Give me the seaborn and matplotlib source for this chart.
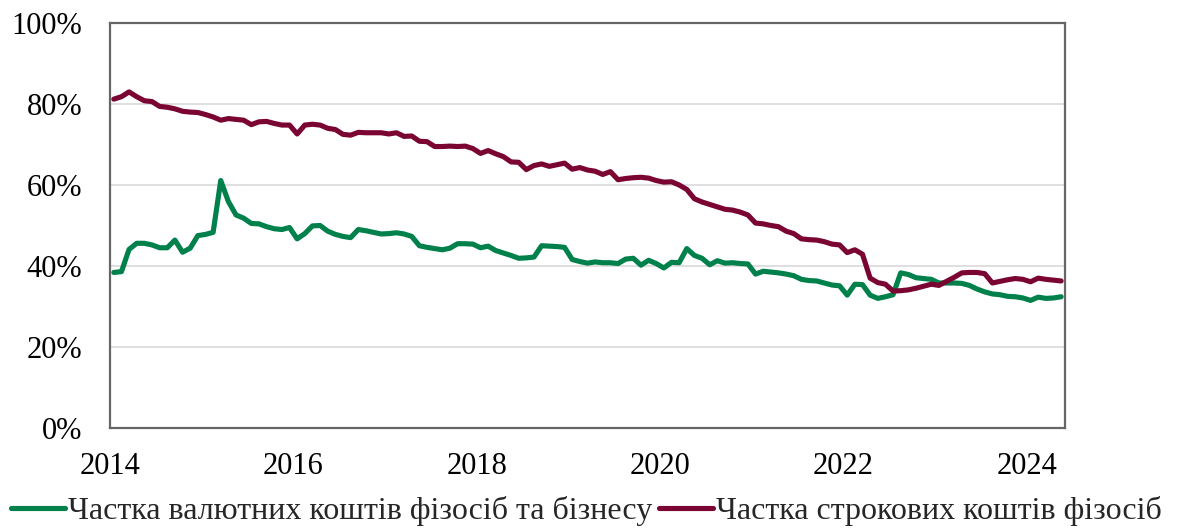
import numpy as np
import pandas as pd
import matplotlib
matplotlib.use("Agg")
import matplotlib.pyplot as plt
from matplotlib.lines import Line2D
import seaborn as sns

# ---- data ----
dates = pd.date_range("2014-01-01", periods=125, freq="MS")

fx_share = [  # Частка валютних коштів фізосіб та бізнесу, %
    38.4, 38.6, 44.1, 45.6, 45.6, 45.2, 44.5, 44.5, 46.4, 43.4, 44.4, 47.5,
    47.8, 48.3, 61.1, 55.9, 52.6, 51.8, 50.5, 50.4, 49.7, 49.2, 49.0, 49.5,
    46.7, 48.0, 49.9, 50.0, 48.6, 47.8, 47.3, 47.0, 49.0, 48.7, 48.3, 47.9,
    48.0, 48.2, 47.9, 47.3, 45.0, 44.6, 44.3, 44.0, 44.4, 45.5, 45.5, 45.4,
    44.5, 44.9, 43.8, 43.2, 42.6, 41.9, 42.0, 42.2, 45.0, 44.9, 44.8, 44.6,
    41.6, 41.1, 40.7, 41.0, 40.8, 40.8, 40.6, 41.7, 41.9, 40.2, 41.4, 40.6,
    39.5, 40.9, 40.8, 44.3, 42.6, 41.9, 40.3, 41.3, 40.7, 40.8, 40.6, 40.5,
    38.0, 38.7, 38.5, 38.3, 38.0, 37.6, 36.7, 36.4, 36.3, 35.8, 35.3, 35.1,
    32.8, 35.5, 35.4, 32.8, 32.0, 32.4, 32.9, 38.3, 37.9, 37.1, 36.9, 36.7,
    35.8, 35.8, 35.8, 35.7, 35.2, 34.3, 33.6, 33.1, 32.9, 32.5, 32.4, 32.1,
    31.5, 32.3, 32.0, 32.1, 32.4,
]

term_share = [  # Частка строкових коштів фізосіб, %
    81.2, 81.8, 83.0, 81.8, 80.8, 80.6, 79.4, 79.2, 78.8, 78.2, 78.0, 77.9,
    77.4, 76.8, 76.0, 76.4, 76.2, 76.0, 74.9, 75.6, 75.7, 75.2, 74.8, 74.8,
    72.6, 74.8, 75.0, 74.8, 74.0, 73.7, 72.5, 72.3, 73.0, 72.9, 72.9, 72.9,
    72.6, 72.9, 72.0, 72.1, 70.8, 70.7, 69.5, 69.5, 69.6, 69.5, 69.6, 69.0,
    67.8, 68.5, 67.7, 67.0, 65.7, 65.6, 63.8, 64.8, 65.2, 64.6, 65.0, 65.4,
    63.9, 64.3, 63.7, 63.4, 62.6, 63.3, 61.3, 61.6, 61.8, 61.9, 61.7, 61.1,
    60.7, 60.8, 60.0, 58.9, 56.6, 55.8, 55.2, 54.6, 54.0, 53.8, 53.3, 52.6,
    50.6, 50.4, 50.0, 49.7, 48.6, 48.0, 46.7, 46.5, 46.4, 46.0, 45.4, 45.2,
    43.3, 44.0, 42.9, 37.0, 35.9, 35.5, 33.8, 33.9, 34.1, 34.5, 35.0, 35.5,
    35.2, 36.2, 37.2, 38.3, 38.4, 38.4, 38.1, 35.8, 36.2, 36.6, 36.9, 36.7,
    36.1, 37.0, 36.7, 36.5, 36.3,
]

series_names = [
    "Частка валютних коштів фізосіб та бізнесу",
    "Частка строкових коштів фізосіб",
]
series_colors = ["#00804A", "#7A0533"]

y_ticks = [0, 20, 40, 60, 80, 100]
y_tick_labels = ["0%", "20%", "40%", "60%", "80%", "100%"]
x_ticks = [2014, 2016, 2018, 2020, 2022, 2024]
x_tick_labels = ["2014", "2016", "2018", "2020", "2022", "2024"]

# ---- build long table ----
t = dates.year + (dates.month - 0.5) / 12.0
df = pd.concat([
    pd.DataFrame({"t": t, "value": fx_share, "series": series_names[0]}),
    pd.DataFrame({"t": t, "value": term_share, "series": series_names[1]}),
])

sns.set_theme(style="white")
plt.rcParams["font.family"] = ["Liberation Serif", "DejaVu Serif"]
plt.rcParams["axes.unicode_minus"] = False

fig = plt.figure(figsize=(11.8, 5.29), dpi=100)
ax = fig.add_axes([0.0932, 0.191, 0.8093, 0.7655])

LW = 3.7
sns.lineplot(data=df, x="t", y="value", hue="series", hue_order=series_names,
             palette=series_colors, linewidth=LW, ax=ax, legend=False)
for ln in ax.lines:
    ln.set_solid_joinstyle("round")
    ln.set_solid_capstyle("round")

ax.set_xlim(2014, 2024 + 5 / 12)
ax.set_ylim(0, 100)
ax.set_yticks(y_ticks)
ax.set_yticklabels(y_tick_labels)
ax.set_xticks(x_ticks)
ax.set_xticklabels(x_tick_labels)
ax.set_xlabel("")
ax.set_ylabel("")

ax.yaxis.grid(True, color="#D9D9D9", linewidth=1.2)
ax.xaxis.grid(False)
ax.set_axisbelow(True)

for s in ax.spines.values():
    s.set_visible(True)
    s.set_color("#666666")
    s.set_linewidth(1.6)

ax.tick_params(axis="both", direction="in", colors="#666666", width=1.6,
               labelcolor="black", labelsize=22)
ax.tick_params(axis="x", length=7, pad=17)
ax.tick_params(axis="y", length=6, pad=20)

handles = [Line2D([0], [0], color=c, linewidth=LW, solid_capstyle="round")
           for c in series_colors]
fig.legend(handles, series_names, loc="center", bbox_to_anchor=(0.497, 0.034),
           ncol=2, frameon=False, fontsize=23, handlelength=1.7,
           handletextpad=0.1, columnspacing=0.2, borderaxespad=0,
           borderpad=0)

fig.savefig("out.png", dpi=100)
